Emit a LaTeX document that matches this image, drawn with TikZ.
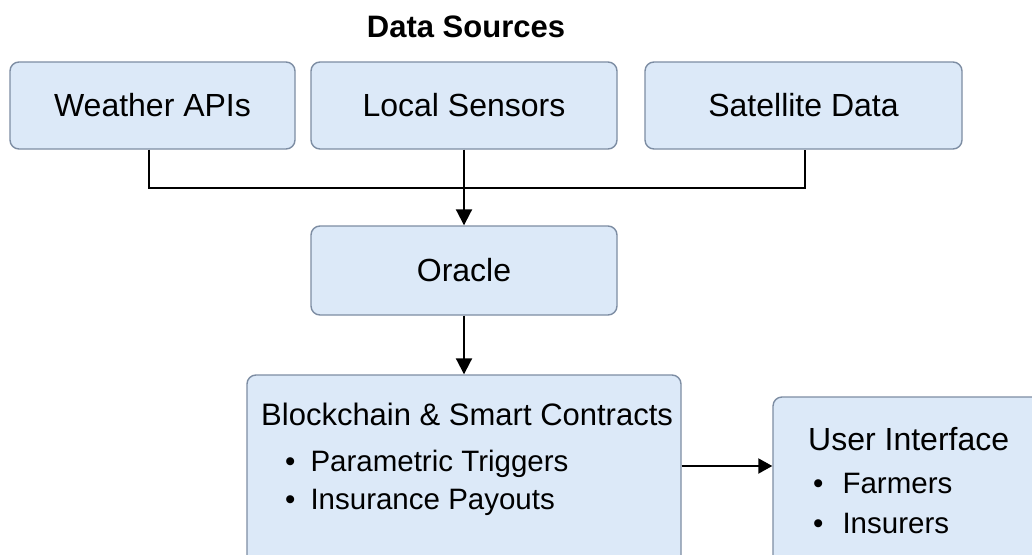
\documentclass[tikz,border=0pt]{standalone}
\usepackage{fontspec}
\setmainfont{Liberation Sans}
\usetikzlibrary{arrows.meta}
\definecolor{boxfill}{HTML}{DCE9F8}
\definecolor{boxline}{HTML}{7D8DA3}
\tikzset{
  box/.style={draw=boxline, fill=boxfill, line width=1.4pt, rounded corners=9pt, inner sep=0pt},
  conn/.style={line width=2pt, black},
  arr/.style={conn, -{Triangle[length=16pt,width=16pt]}},
  lbl/.style={font=\fontsize{32}{36}\selectfont, inner sep=0pt},
  itm/.style={font=\fontsize{29.5}{34}\selectfont, inner sep=0pt, anchor=base west},
}
\begin{document}
\begin{tikzpicture}[x=1pt,y=-1pt]
\useasboundingbox (0,0) rectangle (1032,554);
\clip (0,0) rectangle (1032,554);
\fill[white] (0,0) rectangle (1032,554);
\node[font=\bfseries\fontsize{31}{34}\selectfont, inner sep=0pt, anchor=base] (title) at (466,37) {Data Sources};
\node[box, minimum width=285pt, minimum height=87pt] (weather) at (152.5,105.5) {};
\node[lbl] at (weather) {Weather APIs};
\node[box, minimum width=306pt, minimum height=87pt] (local) at (464,105.5) {};
\node[lbl] at (local) {Local Sensors};
\node[box, minimum width=317pt, minimum height=87pt] (sat) at (803.5,105.5) {};
\node[lbl] at (sat) {Satellite Data};
\node[box, minimum width=306pt, minimum height=89pt] (oracle) at (464,270.5) {};
\node[lbl] at (oracle) {Oracle};
\node[box, minimum width=434pt, minimum height=190pt] (chain) at (464,470) {};
\node[lbl, anchor=base west, font=\fontsize{31}{36}\selectfont] (chaint) at (261,425) {Blockchain \& Smart Contracts};
\node[itm] (b1) at (285,471) {\textbullet\hspace{15pt}Parametric Triggers};
\node[itm] (b2) at (285,509) {\textbullet\hspace{15pt}Insurance Payouts};
\node[box, minimum width=280pt, minimum height=170pt] (ui) at (913,482) {};
\node[lbl, anchor=base west] (uit) at (808,450) {User Interface};
\node[itm] (u1) at (813,493) {\textbullet\hspace{19pt}Farmers};
\node[itm] (u2) at (813,533) {\textbullet\hspace{19pt}Insurers};
\coordinate (jl) at (149,188);
\coordinate (jr) at (805,188);
\draw[conn] (weather.south -| jl) -- (jl) -- (jr) -- (sat.south -| jr);
\draw[arr] (local.south) -- (oracle.north);
\draw[arr] (oracle.south) -- (chain.north);
\draw[conn, -{Triangle[length=14pt,width=15pt]}] (chain.east |- 0,466) -- (ui.west |- 0,466);
\end{tikzpicture}
\end{document}
